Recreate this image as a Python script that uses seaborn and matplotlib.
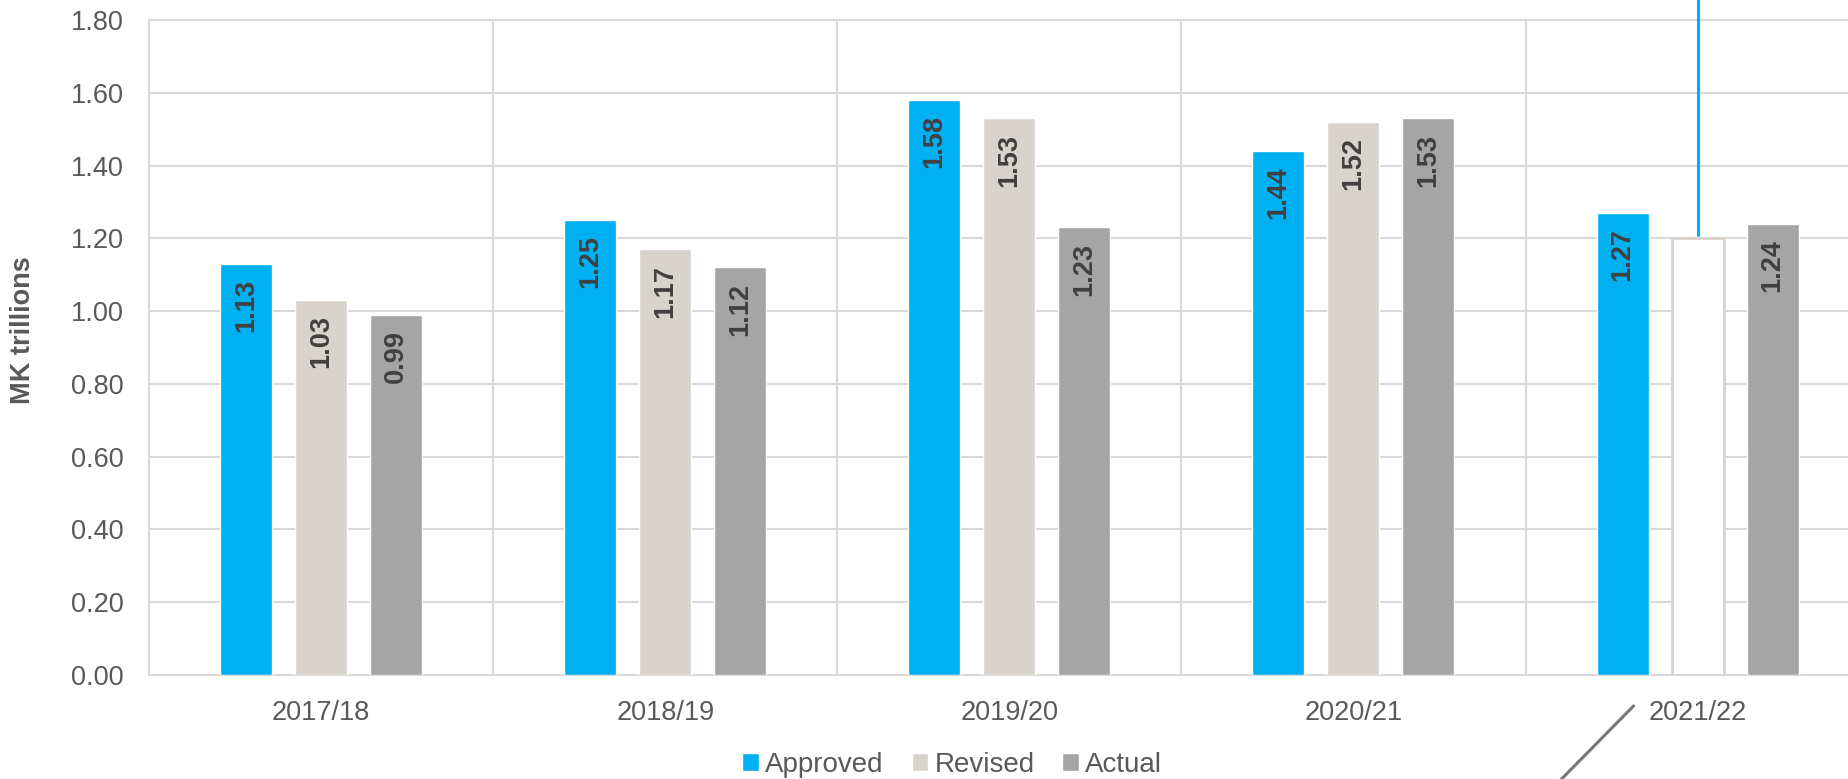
import matplotlib.pyplot as plt
import numpy as np
import pandas as pd
import seaborn as sns

years = ["2017/18", "2018/19", "2019/20", "2020/21", "2021/22"]
series = ["Approved", "Revised", "Actual"]
approved = [1.13, 1.25, 1.58, 1.44, 1.27]
revised = [1.03, 1.17, 1.53, 1.52, 1.20]
actual = [0.99, 1.12, 1.23, 1.53, 1.24]
# 2021/22 revised bar is shown as an empty outline without a label
revised_labels = ["1.03", "1.17", "1.53", "1.52", ""]
approved_labels = ["1.13", "1.25", "1.58", "1.44", "1.27"]
actual_labels = ["0.99", "1.12", "1.23", "1.53", "1.24"]
y_ticks = [0.0, 0.2, 0.4, 0.6, 0.8, 1.0, 1.2, 1.4, 1.6, 1.8]

colors = ["#00B0F0", "#D9D3CD", "#A5A5A5"]
text_color = "#595959"
grid_color = "#D9D9D9"

df = pd.DataFrame(
    {
        "Year": years * 3,
        "Series": np.repeat(series, len(years)),
        "Value": approved + revised + actual,
    }
)

sns.set_theme(style="white")
plt.rcParams["font.family"] = ["Liberation Sans", "DejaVu Sans"]

fig = plt.figure(figsize=(18.49, 7.79), dpi=100)
ax = fig.add_axes([0.0806, 0.1335, 0.9194, 0.8408])

sns.barplot(
    data=df,
    x="Year",
    y="Value",
    hue="Series",
    palette=colors,
    saturation=1,
    width=0.654,
    gap=0.307,
    errorbar=None,
    ax=ax,
)

ax.set_xlim(-0.5, 4.44)
ax.set_ylim(0, 1.8)
ax.set_yticks(y_ticks)
ax.set_yticklabels([f"{t:.2f}" for t in y_ticks])

# horizontal grid at the y ticks, vertical lines between the year groups
for t in y_ticks:
    ax.axhline(t, color=grid_color, lw=1.5, zorder=0, clip_on=False)
for b in np.arange(-0.5, len(years), 1):
    ax.axvline(b, color=grid_color, lw=1.5, zorder=0, clip_on=False)

for side in ["top", "right", "left", "bottom"]:
    ax.spines[side].set_visible(False)

ax.tick_params(axis="y", length=0, pad=18, labelsize=19.5, labelcolor=text_color)
ax.tick_params(axis="x", length=0, pad=18, labelsize=19.5, labelcolor=text_color)

ax.set_xlabel("")
ax.set_ylabel("MK trillions", fontsize=19.5, fontweight="bold", color=text_color)
ax.yaxis.set_label_coords(-0.0665, 0.527)

# hollow revised bar for 2021/22
hollow = ax.containers[1][4]
hollow.set_facecolor("white")
hollow.set_edgecolor(colors[1])
hollow.set_linewidth(2)

for container, labels in zip(ax.containers,
                             [approved_labels, revised_labels, actual_labels]):
    for bar, lab in zip(container, labels):
        if not lab:
            continue
        ax.annotate(
            lab,
            (bar.get_x() + bar.get_width() / 2, bar.get_height()),
            xytext=(0, -11),
            textcoords="offset points",
            rotation=90,
            ha="center",
            va="top",
            fontsize=19.5,
            fontweight="bold",
            color="#404040",
        )

# callout leader lines
x_hollow = hollow.get_x() + hollow.get_width() / 2
ax.plot([x_hollow, x_hollow], [revised[4] + 0.01, 1.95], color=colors[0],
        lw=2.2, clip_on=False)
idx = years.index("2021/22")
ax.plot([idx - 0.186, idx - 0.41], [-0.085, -0.30], color="#767676",
        lw=2.2, clip_on=False)

handles, labels = ax.get_legend_handles_labels()
ax.get_legend().remove()
fig.legend(
    handles,
    labels,
    loc="center",
    bbox_to_anchor=(0.515, 0.018),
    ncol=3,
    frameon=False,
    fontsize=20,
    handlelength=0.6,
    handleheight=0.6,
    handletextpad=0.22,
    columnspacing=1.0,
    labelcolor=text_color,
)

fig.savefig("out.png", dpi=100)
